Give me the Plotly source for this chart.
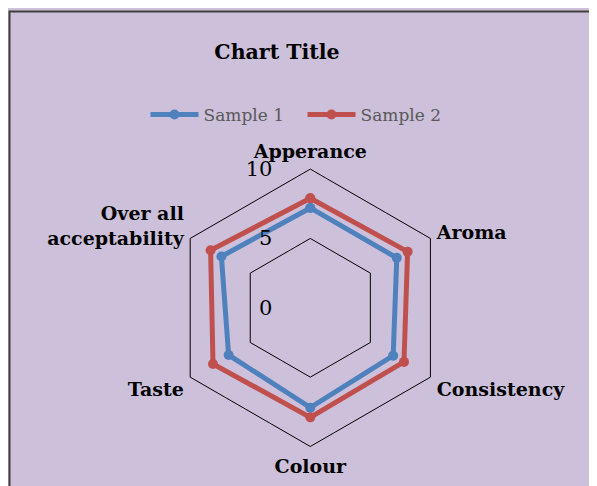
import plotly.graph_objects as go

W, H = 597, 486
OFF = 8  # the page puts the figure 8px in from the window corner

categories = ["Apperance", "Aroma", "Consistency", "Colour", "Taste",
              "Over all<br>acceptability"]
sample1 = [7.2, 7.2, 6.9, 7.2, 6.8, 7.4]
sample2 = [7.9, 8.1, 7.8, 7.9, 8.1, 8.3]
radial_ticks = [0, 5, 10]

blue = "#4F81BD"
red = "#C0504D"
lavender = "#CCC0DA"
serif = "DejaVu Serif"


# screen pixel -> paper fraction
def px_x(p):
    return (p - OFF) / W


def px_y(p):
    return 1 - (p - OFF) / H


fig = go.Figure()
for name, vals, col in [("Sample 1", sample1, blue), ("Sample 2", sample2, red)]:
    fig.add_trace(go.Scatterpolar(
        r=vals + vals[:1], theta=categories + categories[:1],
        mode="lines+markers", name=name,
        line=dict(color=col, width=5),
        marker=dict(color=col, size=10)))

# centre of the radar on screen, outer radius
cx, cy, rad = 310.3, 307.8, 138.7
fig.update_layout(
    width=W, height=H,
    margin=dict(l=0, r=0, t=0, b=0),
    paper_bgcolor=lavender,
    font=dict(family=serif, color="black"),
    showlegend=True,
    title=dict(text="Chart Title", x=px_x(277), y=px_y(52),
               xanchor="center", yanchor="middle",
               font=dict(size=20.5, family=serif, color="black",
                         weight="bold")),
    legend=dict(orientation="h", x=px_x(302.5), y=px_y(115),
                xanchor="center", yanchor="middle", itemwidth=48,
                entrywidth=94, entrywidthmode="pixels",
                bgcolor="rgba(0,0,0,0)",
                font=dict(size=17, family=serif, color="#595959")),
    polar=dict(
        domain=dict(x=[px_x(cx - rad), px_x(cx + rad)],
                    y=[px_y(cy + rad), px_y(cy - rad)]),
        bgcolor="rgba(0,0,0,0)",
        gridshape="linear",
        radialaxis=dict(range=[0, 10], tickvals=radial_ticks, angle=90,
                        side="counterclockwise", tickangle=90,
                        showline=False, gridcolor="black", gridwidth=1,
                        ticks="outside", ticklen=30,
                        tickcolor="rgba(0,0,0,0)",
                        tickfont=dict(size=21, family=serif, color="black")),
        angularaxis=dict(rotation=90, direction="clockwise",
                         showgrid=False, showline=True,
                         linecolor="black", linewidth=1,
                         ticks="outside", ticklen=3,
                         tickcolor="rgba(0,0,0,0)",
                         tickfont=dict(size=19, family=serif, color="black",
                                       weight="bold")),
    ),
    shapes=[dict(type="rect", xref="paper", yref="paper",
                 x0=px_x(9.5), x1=1.05, y0=-0.05, y1=px_y(11.5),
                 fillcolor=lavender, line=dict(color="#3F3F3F", width=2),
                 layer="below")],
)
fig.write_html("out.html")
